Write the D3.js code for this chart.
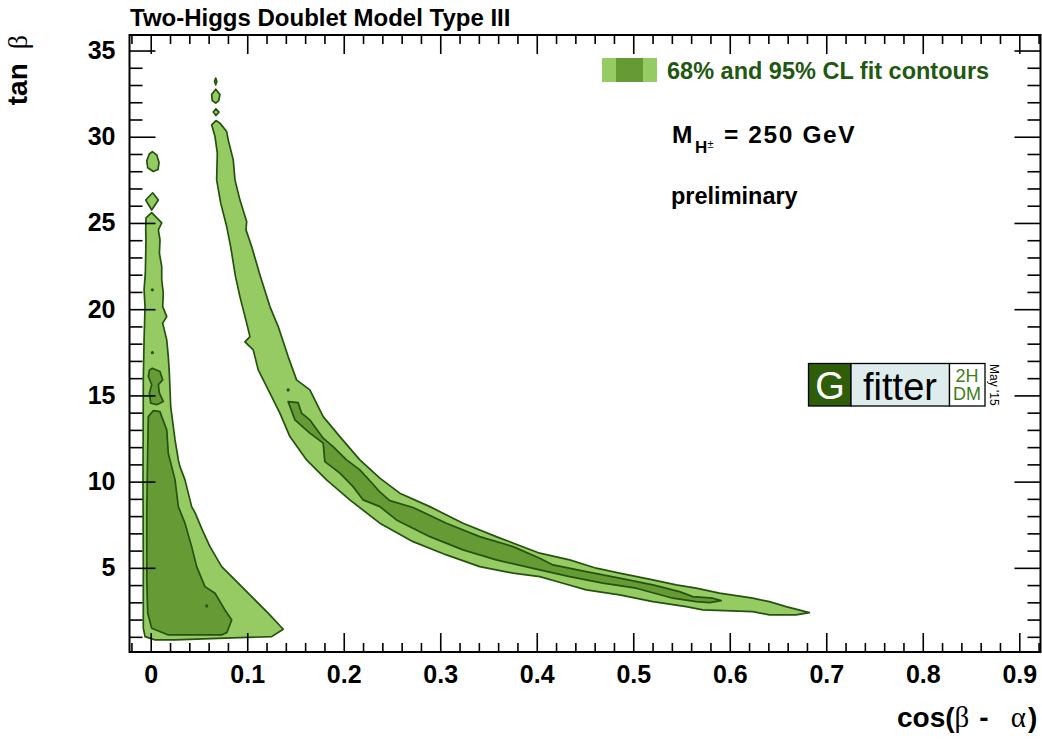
<!DOCTYPE html>
<html>
<head>
<meta charset="utf-8">
<script src="https://cdn.jsdelivr.net/npm/d3@7"></script>
<style>
  html, body { margin: 0; padding: 0; background: #fff; }
  svg { display: block; }
  text { font-family: "Liberation Sans", Arial, Helvetica, sans-serif; }
</style>
</head>
<body>
<svg id="chart" width="1042" height="739"></svg>
<script>
// ---- axes ----
const xMajorTicks = [0, 0.1, 0.2, 0.3, 0.4, 0.5, 0.6, 0.7, 0.8, 0.9];
const xTickLabels = ["0", "0.1", "0.2", "0.3", "0.4", "0.5", "0.6", "0.7", "0.8", "0.9"];
const yMajorTicks = [5, 10, 15, 20, 25, 30, 35];
const yTickLabels = ["5", "10", "15", "20", "25", "30", "35"];
const xDomain = [-0.022, 0.922];
const yDomain = [0.12, 35.9];

// ---- fit contours: [cos(beta-alpha), tan beta] ----
// 95% CL region, low cos(beta-alpha) branch
const cl95LowMain = [
  [0.001, 25.6], [0.0114, 25.0], [0.0079, 24.6], [0.0096, 24.02], [0.009, 23.25],
  [0.0114, 22.47], [0.0114, 21.7], [0.013, 20.93], [0.0124, 20.15], [0.0166, 19.57],
  [0.0124, 19.19], [0.0166, 18.22], [0.0182, 17.25], [0.0193, 16.29], [0.0207, 14.35],
  [0.0252, 12.42], [0.0286, 11.26], [0.0303, 10.87], [0.0355, 10.1], [0.0424, 8.55],
  [0.0459, 8.2], [0.0534, 7.2], [0.0614, 6.23], [0.0735, 5.07], [0.0873, 4.3],
  [0.1046, 3.33], [0.1217, 2.37], [0.1373, 1.44], [0.1253, 1.01], [0.0769, 0.92],
  [0.0252, 0.82], [0.0045, 0.82], [-0.0059, 1.01], [-0.0077, 1.5], [-0.0077, 5],
  [-0.008, 10], [-0.0077, 15.9], [-0.0069, 18.22], [-0.0059, 20.15], [-0.0069, 21.12],
  [-0.0056, 22.09], [-0.0049, 24.02], [-0.0052, 24.6], [-0.0049, 25.3]
];
const cl95LowIsland1 = [
  [0.002, 26.75], [0.0079, 26.33], [0.001, 25.75], [-0.0052, 26.33]
];
const cl95LowIsland2 = [
  [0.0017, 29.14], [0.0062, 28.95], [0.0086, 28.5], [0.0075, 28.1], [0.0027, 27.98],
  [-0.0031, 28.2], [-0.0041, 28.6], [-0.0015, 29.0]
];
// 95% CL region, high cos(beta-alpha) branch
const cl95HighMain = [
  [0.0676, 30.94], [0.0717, 30.79], [0.0787, 30.3], [0.0803, 29.82], [0.0855, 28.66],
  [0.0873, 27.5], [0.0924, 26.34], [0.0994, 25.08], [0.0987, 24.6], [0.1046, 23.63],
  [0.1131, 22.0], [0.1235, 20.15], [0.1321, 18.99], [0.1424, 17.25], [0.1511, 15.9],
  [0.1649, 15.32], [0.1787, 13.77], [0.196, 12.61], [0.2167, 11.26], [0.2374, 10.2],
  [0.2581, 9.33], [0.2892, 8.55], [0.3236, 7.59], [0.358, 6.81], [0.4031, 5.85],
  [0.4341, 5.46], [0.4617, 4.98], [0.4858, 4.69], [0.5203, 4.3], [0.5445, 4.01],
  [0.5652, 3.82], [0.5893, 3.53], [0.6135, 3.33], [0.6238, 3.24], [0.6411, 3.04],
  [0.6584, 2.75], [0.6825, 2.4], [0.6687, 2.27], [0.6411, 2.27], [0.6238, 2.46],
  [0.572, 2.56], [0.5549, 2.75], [0.5203, 3.04], [0.4858, 3.43], [0.4513, 3.72],
  [0.4271, 4.11], [0.4031, 4.49], [0.3754, 4.69], [0.3409, 5.07], [0.3064, 5.75],
  [0.2718, 6.52], [0.2374, 7.59], [0.2063, 8.94], [0.1822, 10.1], [0.1615, 11.26],
  [0.1442, 12.61], [0.1338, 13.97], [0.1235, 15.13], [0.1114, 16.48], [0.1062, 17.64],
  [0.0976, 18.1], [0.1028, 18.41], [0.0994, 19.19], [0.0924, 20.73], [0.0878, 21.9],
  [0.0828, 23.63], [0.0787, 24.79], [0.0725, 26.15], [0.0683, 27.5], [0.069, 29.05],
  [0.0666, 30.01], [0.0631, 30.69]
];
const cl95HighIsland1 = [[0.0673, 33.4], [0.0685, 33.2], [0.0673, 33.01], [0.0661, 33.2]];
const cl95HighIsland2 = [
  [0.0674, 32.76], [0.0717, 32.45], [0.0705, 32.1], [0.0674, 31.95], [0.0637, 32.1], [0.0631, 32.45]
];
const cl95HighIsland3 = [[0.0676, 31.62], [0.0707, 31.43], [0.0676, 31.23], [0.0648, 31.43]];

// 68% CL regions
const cl68LowMain = [
  [0.0027, 14.12], [0.0096, 14.06], [0.0114, 13.77], [0.0166, 13.0], [0.0182, 11.65],
  [0.0252, 10.1], [0.0286, 8.55], [0.0355, 7.59], [0.0424, 6.23], [0.0476, 5.07],
  [0.0562, 3.91], [0.0666, 3.53], [0.0769, 2.56], [0.0839, 1.98], [0.079, 1.25],
  [0.0735, 1.11], [0.0182, 1.11], [0.001, 1.5], [-0.0031, 2.37], [-0.0041, 4.3],
  [-0.0041, 8.17], [-0.0031, 12.03], [-0.0025, 13.77]
];
const cl68LowIsland = [
  [0.0017, 16.58], [0.0096, 16.39], [0.0124, 15.9], [0.0079, 15.62], [0.009, 15.13],
  [0.013, 14.65], [0.0062, 14.46], [0.0, 14.55], [-0.0014, 15.13], [0.001, 15.62],
  [-0.0025, 16.1], [-0.0014, 16.46]
];
const cl68HighMain = [
  [0.1424, 14.64], [0.1528, 14.58], [0.1563, 13.97], [0.1649, 13.58], [0.1787, 12.52],
  [0.189, 12.03], [0.2029, 11.26], [0.2167, 10.68], [0.2304, 9.85], [0.2374, 9.4],
  [0.2477, 8.9], [0.2718, 8.5], [0.3064, 7.59], [0.3409, 6.81], [0.3754, 6.23],
  [0.4031, 5.56], [0.4168, 5.17], [0.4513, 4.78], [0.4858, 4.4], [0.5203, 4.01],
  [0.5479, 3.62], [0.5617, 3.33], [0.5824, 3.24], [0.5911, 3.1], [0.579, 2.98],
  [0.5652, 3.04], [0.541, 3.24], [0.5031, 3.82], [0.4685, 4.11], [0.4341, 4.49],
  [0.4031, 4.88], [0.358, 5.46], [0.3236, 6.04], [0.2892, 6.81], [0.2546, 7.78],
  [0.2374, 8.55], [0.2201, 8.94], [0.2097, 9.71], [0.196, 10.49], [0.1804, 11.16],
  [0.1787, 12.23], [0.1649, 12.81], [0.1494, 13.58]
];
// isolated single-bin 68% spots
const cl68Spots = [[0.0017, 21.12], [0.0017, 17.48], [0.058, 2.79], [0.1424, 15.32]];

const cl95Regions = [cl95LowMain, cl95LowIsland1, cl95LowIsland2, cl95HighMain,
                     cl95HighIsland1, cl95HighIsland2, cl95HighIsland3];
const cl68Regions = [cl68LowMain, cl68LowIsland, cl68HighMain];

// ---- styling ----
const color95 = "#96cb64";
const color68 = "#669a35";
const colorEdge = "#24520f";
const sans = "'Liberation Sans', Arial, Helvetica, sans-serif";
const serif = "'Liberation Serif', 'Times New Roman', serif";
const labelFont = `bold 25px ${sans}`;

const svg = d3.select("#chart");
const frame = { left: 129.5, right: 1040.5, top: 35, bottom: 652 };

const x = d3.scaleLinear().domain(xDomain).range([frame.left, frame.right]);
const y = d3.scaleLinear().domain(yDomain).range([frame.bottom, frame.top]);

svg.append("defs").append("clipPath").attr("id", "plotClip")
  .append("rect")
  .attr("x", frame.left).attr("y", frame.top)
  .attr("width", frame.right - frame.left).attr("height", frame.bottom - frame.top);

const plot = svg.append("g").attr("clip-path", "url(#plotClip)");
const line = d3.line().x(d => x(d[0])).y(d => y(d[1])).curve(d3.curveLinearClosed);

plot.selectAll("path.cl95").data(cl95Regions).join("path")
  .attr("class", "cl95")
  .attr("d", line)
  .attr("fill", color95)
  .attr("stroke", colorEdge)
  .attr("stroke-width", 1.7)
  .attr("stroke-linejoin", "round");

plot.selectAll("path.cl68").data(cl68Regions).join("path")
  .attr("class", "cl68")
  .attr("d", line)
  .attr("fill", color68)
  .attr("stroke", colorEdge)
  .attr("stroke-width", 1.7)
  .attr("stroke-linejoin", "round");

plot.selectAll("circle.spot").data(cl68Spots).join("circle")
  .attr("class", "spot")
  .attr("cx", d => x(d[0])).attr("cy", d => y(d[1]))
  .attr("r", 1.6)
  .attr("fill", colorEdge);

// ---- axes with inward ticks ----
const xMinorTicks = d3.range(-1, 47).map(i => +(i * 0.02).toFixed(2))
  .filter(v => v >= xDomain[0] && v <= xDomain[1] && !xMajorTicks.some(m => Math.abs(m - v) < 1e-6));
const yMinorTicks = d3.range(1, 36).filter(v => v % 5 !== 0);

function styleAxis(g) {
  g.select(".domain").remove();
  g.selectAll(".tick line").attr("stroke", "#000").attr("stroke-width", 1.6);
  g.selectAll(".tick text").style("font", labelFont).attr("fill", "#000");
}

svg.append("g").attr("transform", `translate(0,${frame.bottom})`)
  .call(d3.axisBottom(x).tickValues(xMajorTicks).tickSize(-19).tickPadding(13)
    .tickFormat((d, i) => xTickLabels[i]))
  .call(styleAxis);
svg.append("g").attr("transform", `translate(0,${frame.bottom})`)
  .call(d3.axisBottom(x).tickValues(xMinorTicks).tickSize(-9).tickFormat(""))
  .call(styleAxis);
svg.append("g").attr("transform", `translate(0,${frame.top})`)
  .call(d3.axisTop(x).tickValues(xMajorTicks).tickSize(-19).tickFormat(""))
  .call(styleAxis);
svg.append("g").attr("transform", `translate(0,${frame.top})`)
  .call(d3.axisTop(x).tickValues(xMinorTicks).tickSize(-9).tickFormat(""))
  .call(styleAxis);

svg.append("g").attr("transform", `translate(${frame.left},0)`)
  .call(d3.axisLeft(y).tickValues(yMajorTicks).tickSize(-26).tickPadding(14)
    .tickFormat((d, i) => yTickLabels[i]))
  .call(styleAxis);
svg.append("g").attr("transform", `translate(${frame.left},0)`)
  .call(d3.axisLeft(y).tickValues(yMinorTicks).tickSize(-13).tickFormat(""))
  .call(styleAxis);
svg.append("g").attr("transform", `translate(${frame.right},0)`)
  .call(d3.axisRight(y).tickValues(yMajorTicks).tickSize(-26).tickFormat(""))
  .call(styleAxis);
svg.append("g").attr("transform", `translate(${frame.right},0)`)
  .call(d3.axisRight(y).tickValues(yMinorTicks).tickSize(-13).tickFormat(""))
  .call(styleAxis);

svg.append("rect")
  .attr("x", frame.left).attr("y", frame.top)
  .attr("width", frame.right - frame.left).attr("height", frame.bottom - frame.top)
  .attr("fill", "none").attr("stroke", "#000").attr("stroke-width", 2);

// ---- titles ----
svg.append("text")
  .attr("x", 130).attr("y", 26)
  .style("font", `bold 24px ${sans}`)
  .text("Two-Higgs Doublet Model Type III");

const xTitle = svg.append("text")
  .attr("x", 897).attr("y", 727)
  .style("font", `bold 28px ${sans}`);
xTitle.append("tspan").text("cos(");
xTitle.append("tspan").style("font", `29px ${serif}`).text("β");
xTitle.append("tspan").attr("dx", 10).text("-");
xTitle.append("tspan").attr("dx", 22).style("font", `29px ${serif}`).text("α");
xTitle.append("tspan").attr("dx", 2).text(")");

const yTitle = svg.append("text")
  .attr("transform", "translate(27,35) rotate(-90)")
  .attr("text-anchor", "end")
  .style("font", `bold 28px ${sans}`);
yTitle.append("tspan").text("tan");
yTitle.append("tspan").attr("dx", 14).style("font", `28px ${serif}`).text("β");

// ---- legend ----
const legend = svg.append("g");
legend.append("rect").attr("x", 602).attr("y", 58).attr("width", 55).attr("height", 24).attr("fill", color95);
legend.append("rect").attr("x", 616).attr("y", 58).attr("width", 27).attr("height", 24).attr("fill", color68);
legend.append("text").attr("x", 667).attr("y", 79)
  .style("font", `bold 23.5px ${sans}`)
  .attr("fill", "#1f5810")
  .text("68% and 95% CL fit contours");

const mass = svg.append("text").attr("y", 143)
  .style("font", `bold 24.5px ${sans}`);
mass.append("tspan").attr("x", 672).text("M");
mass.append("tspan").attr("x", 695).attr("dy", 10).style("font-size", "17px").text("H");
mass.append("tspan").attr("x", 707.5).attr("dy", -5).style("font-size", "11px").style("font-weight", "normal").text("±");
mass.append("tspan").attr("x", 724).attr("dy", -5).style("letter-spacing", "1.6px").text("= 250 GeV");

svg.append("text").attr("x", 671).attr("y", 204)
  .style("font", `bold 23.5px ${sans}`)
  .text("preliminary");

// ---- Gfitter badge ----
const badge = svg.append("g");
badge.append("rect").attr("x", 808.5).attr("y", 363.5).attr("width", 42.5).attr("height", 42.5)
  .attr("fill", "#2e5e0a").attr("stroke", "#000").attr("stroke-width", 1.3);
badge.append("rect").attr("x", 851).attr("y", 363.5).attr("width", 98.5).attr("height", 42.5)
  .attr("fill", "#dfecec").attr("stroke", "#000").attr("stroke-width", 1.3);
badge.append("rect").attr("x", 949.5).attr("y", 363.5).attr("width", 35.5).attr("height", 42.5)
  .attr("fill", "#fff").attr("stroke", "#000").attr("stroke-width", 1.3);
badge.append("text").attr("x", 830).attr("y", 398.5).attr("text-anchor", "middle")
  .style("font", `38px ${sans}`).attr("fill", "#fff").text("G");
badge.append("text").attr("x", 900).attr("y", 400).attr("text-anchor", "middle")
  .style("font", `38px ${sans}`).attr("fill", "#000").text("fitter");
badge.append("text").attr("x", 967).attr("y", 382).attr("text-anchor", "middle")
  .style("font", `18px ${sans}`).attr("fill", "#3f7d18").text("2H");
badge.append("text").attr("x", 967).attr("y", 400).attr("text-anchor", "middle")
  .style("font", `18px ${sans}`).attr("fill", "#3f7d18").text("DM");
badge.append("text").attr("transform", "translate(990,364) rotate(90)")
  .style("font", `12px ${sans}`).attr("fill", "#000").text("May '15");
</script>
</body>
</html>
